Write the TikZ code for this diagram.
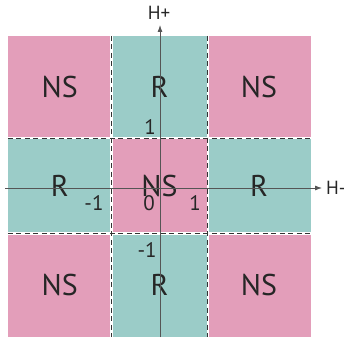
\documentclass[tikz,border=0pt]{standalone}
\usepackage{fontspec}
\setmainfont{PT Sans}
\usetikzlibrary{positioning,arrows.meta}
\definecolor{nspink}{RGB}{227,158,186}
\definecolor{rteal}{RGB}{155,204,200}
\definecolor{axisgray}{RGB}{85,85,85}

\begin{document}
\begin{tikzpicture}[x=1pt,y=-1pt,
  cell/.style={inner sep=0pt,text=black!85,font=\fontsize{30}{30}\selectfont},
  ns/.style={cell,fill=nspink},
  rr/.style={cell,fill=rteal},
  tick/.style={inner sep=0pt,text=black!85,font=\fontsize{21}{21}\selectfont},
  gridwhite/.style={draw=white,line width=2.4pt},
  griddash/.style={draw=black!80,line width=1pt,dash pattern=on 5pt off 3.5pt},
  axis/.style={draw=axisgray,line width=0.8pt}]
  \useasboundingbox (0,0) rectangle (344,337);
  % cells
  \node[ns,minimum width=103.5pt,minimum height=102pt] (nw) at (59.75,87) {NS};
  \node[rr,minimum width=96pt,minimum height=102pt] (n) at (159.5,87) {R};
  \node[ns,minimum width=103pt,minimum height=102pt] (ne) at (259,87) {NS};
  \node[rr,minimum width=103.5pt,minimum height=95.5pt] (w) at (59.75,185.75) {R};
  \node[ns,minimum width=96pt,minimum height=95.5pt] (c) at (159.5,185.75) {NS};
  \node[rr,minimum width=103pt,minimum height=95.5pt] (e) at (259,185.75) {R};
  \node[ns,minimum width=103.5pt,minimum height=103.5pt] (sw) at (59.75,285.25) {NS};
  \node[rr,minimum width=96pt,minimum height=103.5pt] (s) at (159.5,285.25) {R};
  \node[ns,minimum width=103pt,minimum height=103.5pt] (se) at (259,285.25) {NS};
  % dashed borders
  \path[gridwhite] (nw.south west) -- (ne.south east) (sw.north west) -- (se.north east)
    (n.north west) -- (s.south west) (n.north east) -- (s.south east);
  \path[griddash] (nw.south west) -- (ne.south east) (sw.north west) -- (se.north east)
    (n.north west) -- (s.south west) (n.north east) -- (s.south east);
  % axes
  \coordinate (xl) at (5,188);
  \coordinate (xr) at (322,188);
  \coordinate (yb) at (160,337);
  \coordinate (yt) at (160,25);
  \node[tick,font=\fontsize{19}{19}\selectfont,anchor=west] (hminus) at (326,188) {H-};
  \node[tick,font=\fontsize{19}{19}\selectfont] (hplus) at (159,13) {H+};
  \draw[axis,-{Latex[length=7pt,width=5pt]}] (xl) -- (xr);
  \draw[axis,-{Latex[length=7pt,width=5pt]}] (yb) -- (yt);
  % ticks
  \node[tick] (t1) at (150,127) {1};
  \node[tick] (tm1) at (94,203) {-1};
  \node[tick] (t0) at (149,203) {0};
  \node[tick] (tr1) at (195,203) {1};
  \node[tick] (tbm1) at (147,250) {-1};
\end{tikzpicture}
\end{document}
